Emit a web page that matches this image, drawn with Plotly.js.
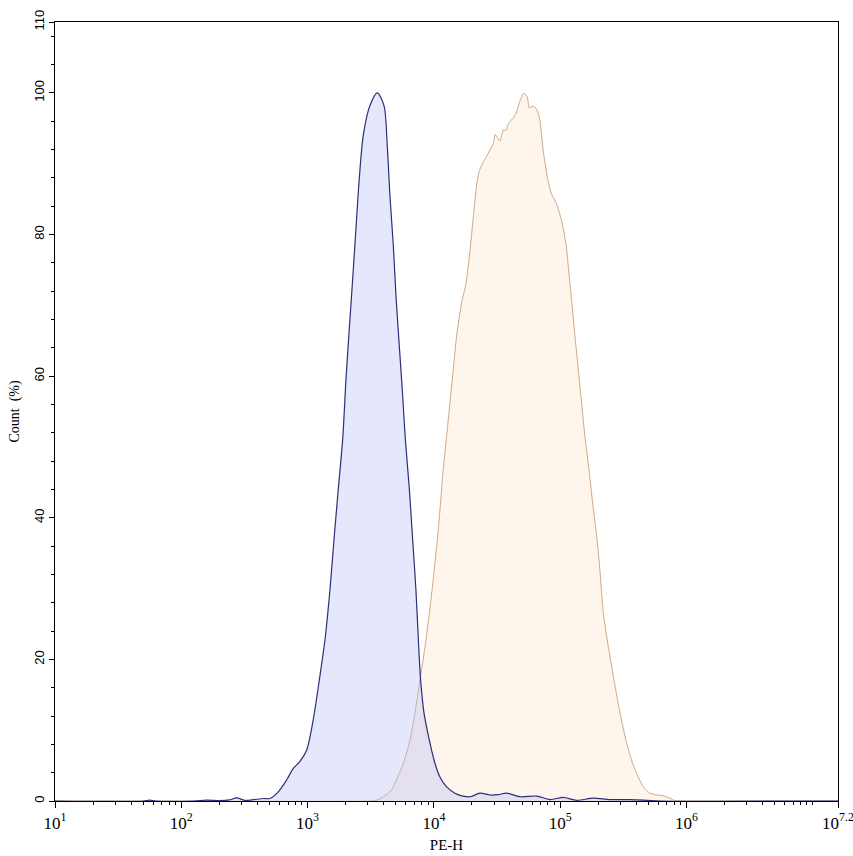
<!DOCTYPE html>
<html>
<head>
<meta charset="utf-8">
<script src="https://cdn.plot.ly/plotly-3.0.1.min.js"></script>
<style>html,body{margin:0;padding:0;background:#fff;}#chart{width:853px;height:856px;}</style>
</head>
<body>
<div id="chart"></div>
<script>
// Control (blue) histogram: log10(PE-H) and Count (%)
const controlLogX = [1.0, 1.70, 1.75, 1.80, 2.10, 2.20, 2.30, 2.38, 2.44, 2.50, 2.56, 2.65, 2.70, 2.768, 2.835, 2.887, 2.940, 2.993, 3.045, 3.093, 3.138, 3.177, 3.209, 3.243, 3.278, 3.304, 3.330, 3.357, 3.383, 3.409, 3.441, 3.494, 3.552, 3.605, 3.631, 3.652, 3.679, 3.700, 3.726, 3.753, 3.774, 3.806, 3.832, 3.858, 3.877, 3.895, 3.922, 3.964, 4.009, 4.048, 4.101, 4.167, 4.230, 4.286, 4.365, 4.444, 4.510, 4.576, 4.682, 4.814, 4.919, 5.025, 5.131, 5.262, 5.394, 5.553, 5.685, 5.80, 7.2];
const controlCount = [0, 0, 0.12, 0, 0, 0.12, 0.05, 0.15, 0.45, 0.1, 0.15, 0.35, 0.35, 1.3, 3.0, 4.6, 5.6, 7.2, 11.5, 17.1, 22.8, 29.8, 36.9, 44.0, 51.1, 59.5, 66.6, 73.7, 80.8, 87.8, 94.0, 98.2, 100, 98.2, 92.5, 85.5, 78.4, 71.3, 64.3, 57.2, 51.1, 44.0, 36.9, 29.8, 22.8, 17.1, 12.4, 8.6, 5.3, 3.4, 2.0, 1.1, 0.7, 0.6, 1.1, 0.85, 0.9, 1.1, 0.6, 0.7, 0.2, 0.5, 0.1, 0.4, 0.2, 0.2, 0.1, 0, 0];

// Stained (orange) histogram: log10(PE-H) and Count (%)
const stainedLogX = [1.0, 3.50, 3.547, 3.600, 3.666, 3.705, 3.758, 3.811, 3.850, 3.890, 3.930, 3.964, 3.995, 4.035, 4.074, 4.101, 4.127, 4.154, 4.180, 4.220, 4.254, 4.286, 4.312, 4.339, 4.360, 4.391, 4.470, 4.484, 4.523, 4.550, 4.571, 4.589, 4.634, 4.655, 4.682, 4.713, 4.740, 4.755, 4.787, 4.814, 4.840, 4.866, 4.898, 4.932, 4.972, 5.012, 5.046, 5.078, 5.117, 5.143, 5.170, 5.196, 5.228, 5.257, 5.289, 5.310, 5.342, 5.381, 5.426, 5.474, 5.526, 5.574, 5.618, 5.658, 5.711, 5.764, 5.816, 5.869, 5.909, 6.0, 7.2];
const stainedCount = [0, 0, 0.1, 0.6, 1.6, 3.0, 5.3, 8.6, 12.4, 17.1, 21.8, 26.5, 31.3, 38.3, 46.8, 51.5, 56.2, 61.0, 65.7, 70.4, 73.0, 77.7, 82.4, 87.1, 89.0, 90.2, 92.8, 94.1, 93.2, 94.8, 94.7, 95.6, 96.6, 97.3, 98.9, 100, 99.4, 97.9, 98.1, 97.7, 96.1, 91.8, 88.1, 85.7, 84.3, 81.9, 78.6, 73.0, 65.7, 61.0, 56.2, 51.5, 46.8, 42.1, 37.4, 33.6, 26.5, 21.8, 17.1, 12.4, 8.2, 5.3, 3.4, 2.0, 1.1, 0.85, 0.75, 0.4, 0.05, 0, 0];

const xTickExp = [1, 2, 3, 4, 5, 6, 7.2];
const xTickText = xTickExp.map(e => '10<sup>' + e + '</sup>');
const yTickVals = [0, 20, 40, 60, 80, 100, 110];

const pow10 = a => a.map(v => Math.pow(10, v));

const traces = [
  {
    x: pow10(stainedLogX), y: stainedCount, type: 'scatter', mode: 'lines',
    line: {color: '#d4a880', width: 1, shape: 'spline', smoothing: 0.5},
    fill: 'tozeroy', fillcolor: 'rgba(250,215,180,0.25)', hoverinfo: 'skip'
  },
  {
    x: pow10(controlLogX), y: controlCount, type: 'scatter', mode: 'lines',
    line: {color: '#2e2e78', width: 1.2, shape: 'spline', smoothing: 0.8},
    fill: 'tozeroy', fillcolor: 'rgba(180,185,245,0.35)', hoverinfo: 'skip'
  }
];

const serif = 'Liberation Serif';
const layout = {
  width: 853, height: 856,
  margin: {l: 55, r: 15, t: 22, b: 55},
  paper_bgcolor: '#ffffff', plot_bgcolor: '#ffffff',
  showlegend: false,
  font: {family: serif, size: 14, color: '#000'},
  xaxis: {
    type: 'log', range: [1, 7.2],
    tickvals: pow10(xTickExp), ticktext: xTickText,
    ticklabeloverflow: 'allow',
    ticks: 'outside', ticklen: 6, tickwidth: 1, tickcolor: '#000',
    minor: {dtick: 'D1', ticks: 'outside', ticklen: 3, tickcolor: '#000', showgrid: false},
    showgrid: false, zeroline: false,
    showline: true, linecolor: '#000', linewidth: 1.2, mirror: true,
    tickfont: {family: serif, size: 17, color: '#000'},
    title: {text: 'PE-H', font: {family: serif, size: 15, color: '#000'}, standoff: 8}
  },
  yaxis: {
    range: [0, 110], tickvals: yTickVals,
    ticks: 'outside', ticklen: 5, tickwidth: 1, tickcolor: '#000',
    minor: {dtick: 4, ticks: 'outside', ticklen: 3, tickcolor: '#000', showgrid: false},
    tickangle: -90,
    showgrid: false, zeroline: false,
    showline: true, linecolor: '#000', linewidth: 1.2, mirror: true,
    tickfont: {family: 'Liberation Sans', size: 13, color: '#000'},
    title: {text: 'Count  (%)', font: {family: serif, size: 14, color: '#000'}, standoff: 8}
  }
};

Plotly.newPlot('chart', traces, layout, {staticPlot: true, displayModeBar: false});
</script>
</body>
</html>
